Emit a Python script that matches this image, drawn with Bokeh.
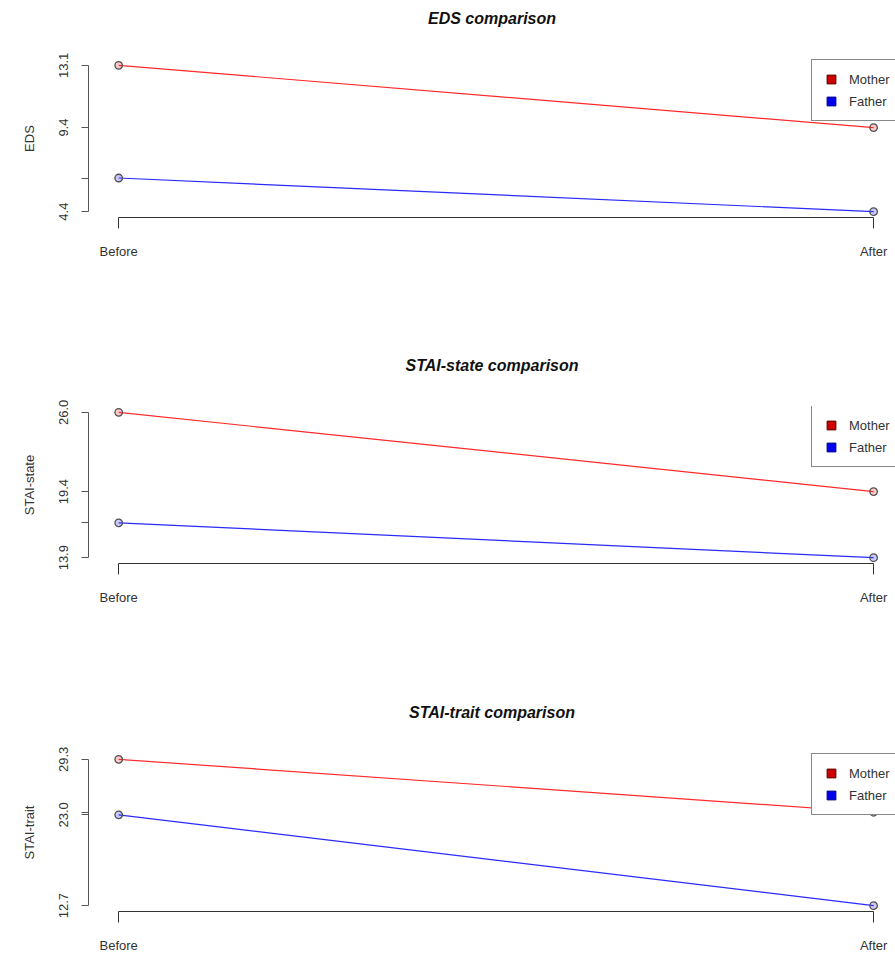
from bokeh.plotting import figure
from bokeh.layouts import column
from bokeh.models import (FixedTicker, Legend, LegendItem, Range1d, Title,
                          LinearAxis, ColumnDataSource)
from bokeh.embed import file_html
from bokeh.resources import INLINE

# ---- data ----
time_labels = ["Before", "After"]
time_pos = [1, 2]
measures = ["EDS", "STAI-state", "STAI-trait"]
titles = ["EDS comparison", "STAI-state comparison", "STAI-trait comparison"]
mother_eds = [13.1, 9.4]
father_eds = [6.4, 4.4]
mother_state = [26.0, 19.4]
father_state = [16.8, 13.9]
mother_trait = [29.3, 23.3]
father_trait = [23.0, 12.7]
hidden_tick_labels = [[6.4], [16.8], [23.3]]
series_names = ["Mother", "Father"]
series_colors = ["#ff2a2a", "#2a2aff"]
legend_fill = ["#cc0000", "#0000ee"]
legend_edge = ["#550000", "#000088"]

mothers = [mother_eds, mother_state, mother_trait]
fathers = [father_eds, father_state, father_trait]

FONT = "Liberation Sans"
heights = [354, 346, 255]
tops = [59, 51, 53]
NAN = float("nan")

figs = []
for i in range(3):
    m = mothers[i]
    f = fathers[i]
    allv = m + f
    lo, hi = min(allv), max(allv)
    pad = 0.04 * (hi - lo)
    frame_h = 158
    p = figure(width=895, height=heights[i], output_backend="svg",
               toolbar_location=None, x_axis_location="below",
               min_border_left=88, min_border_right=0,
               min_border_top=tops[i],
               min_border_bottom=heights[i] - tops[i] - frame_h,
               x_range=Range1d(0.96, 2.029),
               y_range=Range1d(lo - pad, hi + pad))
    p.outline_line_color = None
    p.grid.visible = False
    p.background_fill_color = "white"
    p.border_fill_color = "white"

    xa = p.below[0]
    ya = p.left[0]

    # invisible spacer axis between frame and title (one hidden tick)
    mid = sum(time_pos) / len(time_pos)
    spacer = LinearAxis(ticker=FixedTicker(ticks=[mid]), axis_line_color=None,
                        major_tick_line_color=None, minor_tick_line_color=None,
                        major_tick_in=0, major_tick_out=33,
                        major_label_standoff=0,
                        major_label_overrides={mid: ""})
    p.add_layout(spacer, "above")

    t = Title(text=titles[i], align="center", vertical_align="bottom",
              text_font=FONT, text_font_size="16px",
              text_font_style="bold italic",
              text_color="#111111", standoff=0)
    p.add_layout(t, "above")

    # x axis
    xa.ticker = FixedTicker(ticks=time_pos)
    xa.major_label_overrides = {k: v for k, v in zip(time_pos, time_labels)}
    xa.bounds = (min(time_pos), max(time_pos))
    xa.major_tick_in = 0
    xa.major_tick_out = 11
    xa.minor_tick_line_color = None
    xa.axis_line_color = "#333333"
    xa.major_tick_line_color = "#333333"
    xa.major_label_standoff = 15
    xa.major_label_text_font = FONT
    xa.major_label_text_font_size = "13px"
    xa.major_label_text_color = "#333333"

    # y axis
    ticks = sorted(allv)
    ya.ticker = FixedTicker(ticks=ticks)
    ya.major_label_overrides = {v: ("" if v in hidden_tick_labels[i] else f"{v:.1f}")
                                for v in ticks}
    ya.bounds = (lo, hi)
    ya.major_tick_in = 0
    ya.major_tick_out = 7
    ya.minor_tick_line_color = None
    ya.axis_line_color = "#555555"
    ya.major_tick_line_color = "#555555"
    ya.major_label_orientation = "vertical"
    ya.major_label_standoff = 13
    ya.major_label_text_font = FONT
    ya.major_label_text_font_size = "13px"
    ya.major_label_text_color = "#333333"
    ya.axis_label = measures[i]
    ya.axis_label_text_font = FONT
    ya.axis_label_text_font_size = "13px"
    ya.axis_label_text_font_style = "normal"
    ya.axis_label_text_color = "#333333"
    ya.axis_label_standoff = 20

    # lines and points
    for vals, col in zip([m, f], series_colors):
        src = ColumnDataSource(dict(x=time_pos, y=vals))
        p.line("x", "y", source=src, line_color=col, line_width=1.2)
        p.scatter("x", "y", source=src, size=7.5, marker="circle",
                  line_color="#505050", line_width=1.3,
                  fill_color=col, fill_alpha=0.25)

    # legend
    items = []
    for name, fc, ec in zip(series_names, legend_fill, legend_edge):
        r = p.scatter(x=[NAN], y=[NAN], marker="square", fill_color=fc,
                      line_color=ec)
        items.append(LegendItem(label=name, renderers=[r]))
    leg = Legend(items=items, location=(723, 96), orientation="vertical",
                 glyph_width=22, glyph_height=22, padding=8, spacing=0,
                 label_standoff=7, label_width=60, label_text_font=FONT,
                 label_text_font_size="13px", label_text_color="#333333",
                 border_line_color="#111111", border_line_width=1,
                 background_fill_color="white", background_fill_alpha=1.0,
                 margin=0)
    p.add_layout(leg, "center")
    figs.append(p)

layout = column(*figs, spacing=0)
open("out.html", "w").write(file_html(layout, INLINE))
